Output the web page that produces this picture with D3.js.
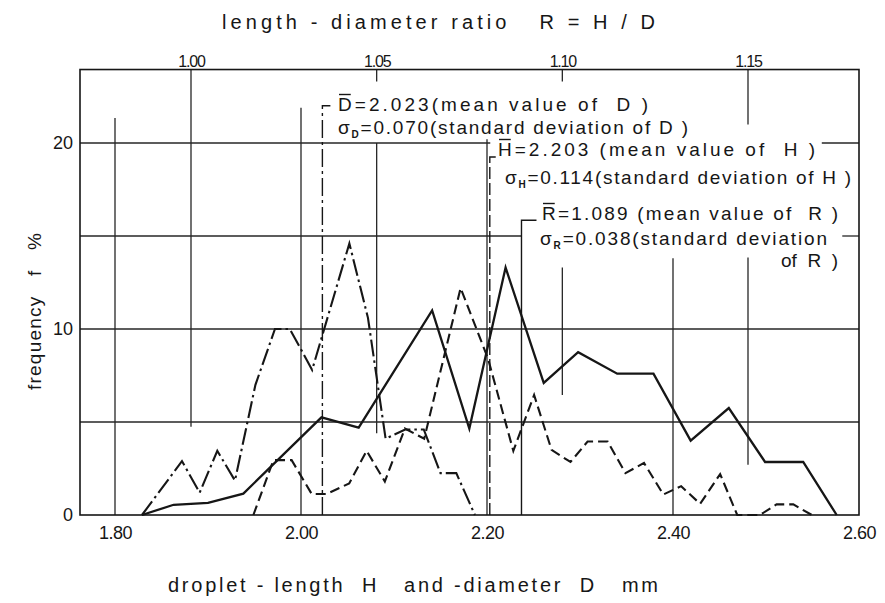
<!DOCTYPE html>
<html>
<head>
<meta charset="utf-8">
<script src="https://cdn.jsdelivr.net/npm/d3@7"></script>
<style>
  body { margin: 0; background: #fff; }
  svg { font-family: "Liberation Sans", Arial, sans-serif; }
  text { white-space: pre; fill: #161616; }
</style>
</head>
<body>
<div id="chart"></div>
<script>
// tick values
const freqTicks = [0, 10, 20];
const mmTicks = [1.8, 2.0, 2.2, 2.4, 2.6];
const ratioTicks = [1.0, 1.05, 1.1, 1.15];

// droplet length H (solid line), mm / %
const hMm = [1.829, 1.863, 1.9, 1.938, 2.022, 2.062, 2.141, 2.181, 2.22, 2.261, 2.298, 2.34, 2.379, 2.419, 2.46, 2.499, 2.54, 2.576];
const hFreq = [0, 0.55, 0.65, 1.15, 5.25, 4.7, 11.0, 4.65, 13.3, 7.1, 8.75, 7.6, 7.6, 4.0, 5.75, 2.85, 2.85, 0];

// droplet diameter D (dash-dot line), mm / %
const dMm = [1.829, 1.872, 1.891, 1.91, 1.929, 1.951, 1.972, 1.988, 2.012, 2.052, 2.072, 2.091, 2.112, 2.132, 2.15, 2.167, 2.187];
const dFreq = [0, 2.9, 1.2, 3.45, 1.85, 7.0, 10.0, 10.0, 7.8, 14.6, 10.6, 4.1, 4.6, 4.6, 2.25, 2.25, 0];

// length-diameter ratio R (dashed line, top scale) / %
const rRatio = [1.0168, 1.0222, 1.0271, 1.0325, 1.0365, 1.0426, 1.0473, 1.0522, 1.0576, 1.0628, 1.0726, 1.08, 1.0868, 1.0924, 1.0971, 1.1022, 1.1068, 1.1122, 1.117, 1.122, 1.1272, 1.132, 1.1371, 1.1425, 1.1471, 1.1532, 1.1577, 1.1622, 1.1672];
const rFreq = [0, 2.95, 2.95, 1.13, 1.13, 1.7, 3.45, 1.8, 4.65, 4.1, 12.2, 8.4, 3.45, 6.45, 3.5, 2.85, 3.95, 3.95, 2.25, 2.8, 1.1, 1.55, 0.6, 2.2, 0, 0, 0.57, 0.57, 0];

// statistics written on the chart
const statNames = ["D", "H", "R"];
const statMeans = [2.023, 2.203, 1.089];
const statSds = [0.07, 0.114, 0.038];

const [W, H] = [885, 603];
const ink = "#161616";
const svg = d3.select("#chart").append("svg").attr("width", W).attr("height", H);

// scales: bottom mm, top ratio, frequency
const x = d3.scaleLinear().domain([1.8, 2.6]).range([115, 859]);
const xR = d3.scaleLinear().domain([1.0, 1.15]).range([191, 748]);
const y = d3.scaleLinear().domain([0, 20]).range([515, 143]);
const xMin = x.invert(80);
const yMax = 23.95;

// grid lines, broken where the notes sit (data units)
const hGrid = [
  [5, xMin, 2.6], [10, xMin, 2.6],
  [15, xMin, 2.2375], [15, 2.582, 2.6],
  [20, xMin, 2.2035], [20, 2.56, 2.6]
];
const vGridMm = [[1.8, 0, 21.35], [2.0, 0, 21.9], [2.2, 0, 20.2], [2.4, 0, 13.8]];
const vGridR = [
  [1.0, 4.75, yMax],
  [1.05, 23.3, yMax], [1.05, 4.4, 20],
  [1.1, 23.3, yMax], [1.1, 6.45, 13.3],
  [1.15, 21.0, yMax], [1.15, 2.7, 13.85]
];

const grid = svg.append("g").attr("stroke", "#262626").attr("stroke-width", 1.3);
grid.selectAll(".h").data(hGrid).enter().append("line")
  .attr("x1", (d) => x(d[1])).attr("x2", (d) => x(d[2]))
  .attr("y1", (d) => y(d[0])).attr("y2", (d) => y(d[0]));
grid.selectAll(".vm").data(vGridMm).enter().append("line")
  .attr("x1", (d) => x(d[0])).attr("x2", (d) => x(d[0]))
  .attr("y1", (d) => y(d[1])).attr("y2", (d) => y(d[2]));
grid.selectAll(".vr").data(vGridR).enter().append("line")
  .attr("x1", (d) => xR(d[0])).attr("x2", (d) => xR(d[0]))
  .attr("y1", (d) => y(d[1])).attr("y2", (d) => y(d[2]));

// frame
svg.append("rect")
  .attr("x", x(xMin)).attr("y", y(yMax))
  .attr("width", x(2.6) - x(xMin)).attr("height", y(0) - y(yMax))
  .attr("fill", "none").attr("stroke", ink).attr("stroke-width", 1.6);

// mean lines with the little bracket on top
const meanTops = [22.0, 19.25, 15.85];
const meanX = [x(statMeans[0]), x(statMeans[1]), xR(statMeans[2])];
const meanDash = ["18,4,3,4", "12,4", null];
const meanHook = [8, 6, 15];
meanX.forEach((mx, i) => {
  svg.append("path")
    .attr("d", `M${mx},${y(0)}V${y(meanTops[i])}h${meanHook[i]}`)
    .attr("fill", "none").attr("stroke", ink).attr("stroke-width", 1.4)
    .attr("stroke-dasharray", meanDash[i]);
});

// series
const line = d3.line().x((d) => d[0]).y((d) => y(d[1]));
const series = [
  { pts: d3.zip(hMm.map(x), hFreq), dash: null, w: 2.3 },
  { pts: d3.zip(dMm.map(x), dFreq), dash: "17,4,2.5,4", w: 2.1 },
  { pts: d3.zip(rRatio.map(xR), rFreq), dash: "10,5", w: 2.1 }
];
svg.selectAll(".series").data(series).enter().append("path")
  .attr("d", (d) => line(d.pts))
  .attr("fill", "none").attr("stroke", ink)
  .attr("stroke-width", (d) => d.w)
  .attr("stroke-linejoin", "miter")
  .attr("stroke-dasharray", (d) => d.dash);

// axes (labels only, grid lines do the rest)
const fmt = d3.format(".2f");
svg.append("g").attr("transform", `translate(0,${y(0)})`)
  .call(d3.axisBottom(x).tickValues(mmTicks).tickSize(0).tickPadding(11).tickFormat(fmt))
  .call((g) => g.select(".domain").remove())
  .attr("font-family", null).attr("font-size", 18).attr("letter-spacing", -0.5);
svg.append("g").attr("transform", `translate(0,${y(yMax)})`)
  .call(d3.axisTop(xR).tickValues(ratioTicks).tickSize(0).tickPadding(3).tickFormat(fmt))
  .call((g) => g.select(".domain").remove())
  .attr("font-family", null).attr("font-size", 16).attr("letter-spacing", -1.2);
svg.append("g").attr("transform", `translate(${x(xMin)},0)`)
  .call(d3.axisLeft(y).tickValues(freqTicks).tickSize(0).tickPadding(7))
  .call((g) => g.select(".domain").remove())
  .attr("font-family", null).attr("font-size", 18);
svg.selectAll(".tick text").attr("fill", ink);

// titles
svg.append("text").attr("x", 222).attr("y", 29).attr("font-size", 20)
  .attr("textLength", 433).attr("lengthAdjust", "spacing")
  .text("length - diameter ratio   R = H / D");
svg.append("text").attr("x", 168).attr("y", 592).attr("font-size", 20)
  .attr("textLength", 490).attr("lengthAdjust", "spacing")
  .text("droplet - length  H   and -diameter  D   mm");
svg.append("text").attr("transform", "translate(41,390) rotate(-90)")
  .attr("font-size", 19).attr("textLength", 157).attr("lengthAdjust", "spacing")
  .text("frequency   f   %");

// statistics notes
const notes = svg.append("g").attr("font-size", 19);
function note(x0, y0, len, sym, sub, rest) {
  const t = notes.append("text").attr("x", x0).attr("y", y0)
    .attr("textLength", len).attr("lengthAdjust", "spacing");
  t.append("tspan").text(sym);
  if (sub) {
    t.append("tspan").attr("dy", 4).attr("font-size", 10).attr("font-weight", 700).text(sub);
    t.append("tspan").attr("dy", -4).text(rest);
  } else {
    t.append("tspan").text(rest);
    // overline on the mean symbol
    const b = t.node().getExtentOfChar(0);
    notes.append("line")
      .attr("x1", b.x + 1).attr("x2", b.x + b.width - 1)
      .attr("y1", y0 - 16.5).attr("y2", y0 - 16.5)
      .attr("stroke", ink).attr("stroke-width", 1.4);
  }
}
const noteX = [338, 498, 542];
const noteSdX = [338, 505, 540];
const noteY = [111, 156, 220];
const noteSdY = [134, 184, 245];
const meanLen = [310, 317, 296];
const sdLen = [350, 346, 287];
statNames.forEach((n, i) => {
  const gap = i === 0 ? "" : " ";
  note(noteX[i], noteY[i], meanLen[i], n, null,
    `=${statMeans[i].toFixed(3)}${gap}(mean value of  ${n} )`);
  note(noteSdX[i], noteSdY[i], sdLen[i], "σ", n,
    i === 2 ? `=${statSds[i].toFixed(3)}(standard deviation`
            : `=${statSds[i].toFixed(3)}(standard deviation of ${n} )`);
});
notes.append("text").attr("x", 838).attr("y", 267).attr("text-anchor", "end")
  .text("of  R  )");
</script>
</body>
</html>
